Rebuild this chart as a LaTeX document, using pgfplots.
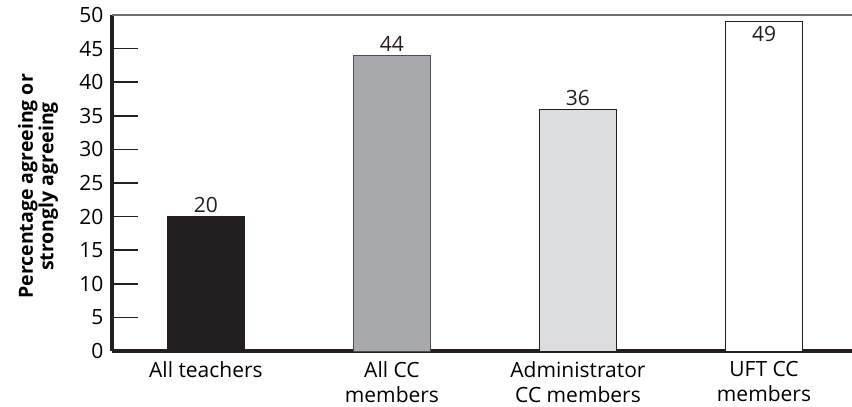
\documentclass[border=0pt]{standalone}
\usepackage{pgfplots}
\pgfplotsset{compat=1.18}
\usepackage{fontspec}
\setmainfont{Open Sans}
\definecolor{barblack}{HTML}{231F20}
\definecolor{bargray}{HTML}{A7A9AC}
\definecolor{barlight}{HTML}{DCDDDE}
\definecolor{toprule}{HTML}{6D6E71}
\begin{document}
\begin{tikzpicture}
\path[use as bounding box] (-112pt,-56pt) rectangle (740pt,351pt);
\begin{axis}[
  scale only axis,
  width=740pt, height=336pt,
  xmin=-0.505, xmax=3.473,
  ymin=0, ymax=50,
  axis x line=bottom, axis y line=left,
  axis line style={line width=3.5pt, color=barblack, -},
  ytick={0,5,...,50},
  tick align=inside,
  major tick length=26pt,
  ytick style={line width=1.5pt, color=barblack},
  xtick={0,1,2,3},
  xticklabels={All teachers, All CC\\members, Administrator\\CC members, UFT CC\\members},
  xtick style={draw=none},
  xticklabel style={align=center, font=\fontsize{21}{25}\selectfont, inner sep=1pt, yshift=17pt},
  yticklabel style={font=\fontsize{21}{24}\selectfont, xshift=-5pt},
  /pgf/number format/assume math mode=true,
  ylabel={Percentage agreeing or\\strongly agreeing},
  ylabel style={align=center, anchor=center, font=\bfseries\fontsize{19.5}{18}\selectfont,
    at={(axis description cs:-0.1,0.49)}},
  ybar, bar width=77pt, bar shift=0pt,
  clip=false,
  nodes near coords,
  every node near coord/.append style={font=\fontsize{21}{24}\selectfont, color=barblack},
]
\addplot[fill=barblack, draw=barblack, line width=0.8pt] coordinates {(0,20)};
\addplot[fill=bargray, draw=barblack!80, line width=0.8pt] coordinates {(1,44)};
\addplot[fill=barlight, draw=barblack, line width=0.8pt] coordinates {(2,36)};
\addplot[fill=white, draw=barblack, line width=0.8pt,
  every node near coord/.append style={anchor=north, yshift=-1pt}] coordinates {(3,49)};
\draw[toprule, line width=1.5pt] (axis description cs:0,1) -- (axis description cs:1,1);
\end{axis}
\end{tikzpicture}
\end{document}
